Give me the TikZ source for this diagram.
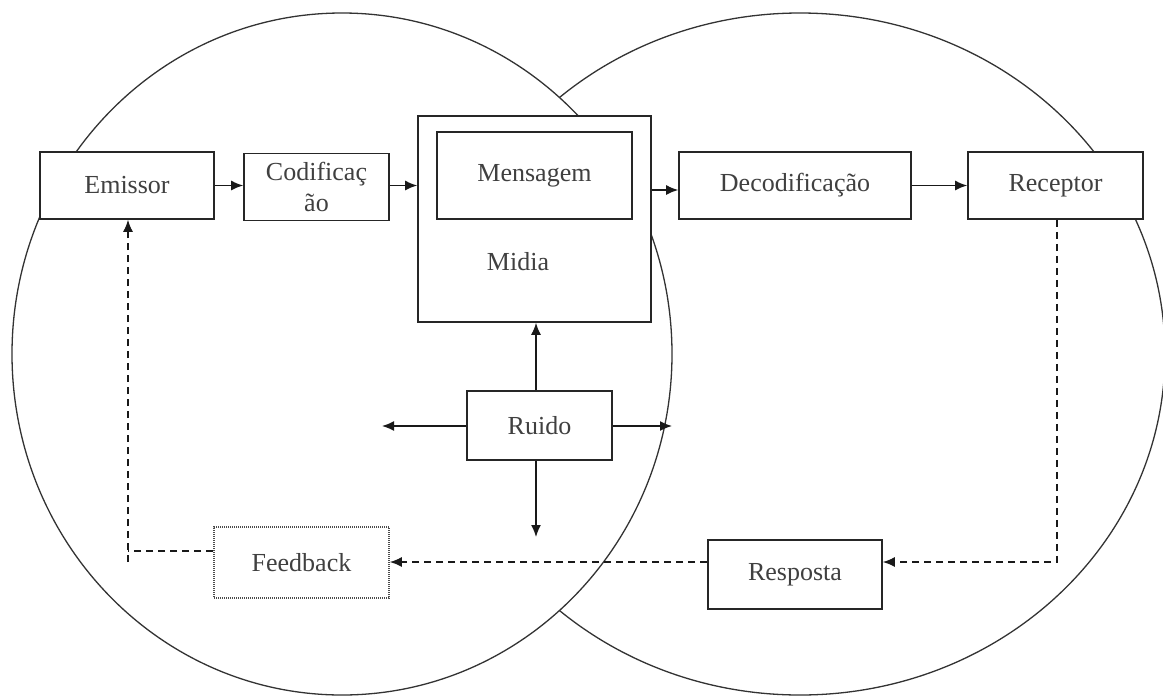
\documentclass[tikz,border=0pt]{standalone}
\usepackage{fontspec}
\setmainfont{Liberation Serif}
\usetikzlibrary{arrows.meta}
\begin{document}
\begin{tikzpicture}[x=1pt,y=-1pt,
  every node/.style={font=\fontsize{26}{31}\selectfont, text=black!75},
  boxnode/.style={draw=black!85, line width=1.6pt, fill=white, rectangle, inner sep=0pt},
  dotbox/.style={draw=black!70, line width=1.6pt, dash pattern=on 1pt off 1pt, fill=white, rectangle, inner sep=0pt},
  circ/.style={draw=black!80, line width=1.3pt},
  arr/.style={draw=black!90, line width=1.5pt, -{Latex[length=12pt,width=10pt]}},
  darr/.style={draw=black!90, line width=1.5pt, dash pattern=on 7pt off 5pt, -{Latex[length=12pt,width=10pt]}},
  dline/.style={draw=black!90, line width=1.5pt, dash pattern=on 7pt off 5pt}
]
\useasboundingbox (0,0) rectangle (1163,697);
% ellipses: right one behind, left one filled on top
\draw[circ] (800,354) ellipse [x radius=365, y radius=341];
\draw[circ, fill=white] (342,354) ellipse [x radius=330, y radius=341];

% nodes
\node[boxnode, minimum width=174pt, minimum height=67pt] (emissor) at (127,185.5) {Emissor};
\node[boxnode, minimum width=145pt, minimum height=67pt, align=center] (codif) at (316.5,187) {Codificaç\\ão};
\node[boxnode, minimum width=233pt, minimum height=206pt] (midia) at (534.5,219) {};
\node[boxnode, minimum width=195pt, minimum height=87pt] (mensagem) at (534.5,175.5) {Mensagem};
\node (midialabel) at (518,262) {Midia};
\node[boxnode, minimum width=232pt, minimum height=67pt] (decod) at (795,185.5) {Decodificação};
\node[boxnode, minimum width=175pt, minimum height=67pt] (receptor) at (1055.5,185.5) {Receptor};
\node[boxnode, minimum width=145pt, minimum height=69pt] (ruido) at (539.5,425.5) {Ruido};
\node[dotbox, minimum width=175pt, minimum height=71pt] (feedback) at (301.5,562.5) {Feedback};
\node[boxnode, minimum width=174pt, minimum height=69pt] (resposta) at (795,574.5) {Resposta};

% coordinates
\coordinate (rowB) at (0,562);
\coordinate (rowF) at (0,551);
\coordinate (fbcorner) at (128,551);
\coordinate (fbbottom) at (128,562);
\coordinate (nleft) at (382,426);
\coordinate (nright) at (672,426);
\coordinate (ndown) at (536,537);
\coordinate (rowM) at (0,190);
\coordinate (rcorner) at (1057,562);

% solid arrows
\draw[arr] (emissor.east) -- (codif.west |- emissor.east);
\draw[arr] (codif.east |- emissor.east) -- (midia.west |- emissor.east);
\draw[arr] (midia.east |- rowM) -- (decod.west |- rowM);
\draw[arr] (decod.east) -- (receptor.west);
\draw[arr] (ruido.north -| ndown) -- (midia.south -| ndown);
\draw[arr] (ruido.west |- nleft) -- (nleft);
\draw[arr] (ruido.east |- nright) -- (nright);
\draw[arr] (ruido.south -| ndown) -- (ndown);

% dashed feedback loop
\draw[darr] (receptor.south -| rcorner) -- (rcorner) -- (resposta.east |- rowB);
\draw[darr] (resposta.west |- rowB) -- (feedback.east |- rowB);
\draw[dline] (feedback.west |- rowF) -- (fbcorner);
\draw[darr] (fbbottom) -- (emissor.south -| fbbottom);
\end{tikzpicture}
\end{document}
